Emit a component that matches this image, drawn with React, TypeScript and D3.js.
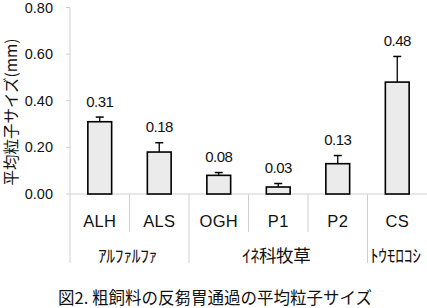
import React from "react";
import * as d3 from "d3";

const categories = ["ALH", "ALS", "OGH", "P1", "P2", "CS"];
const values = [0.31, 0.18, 0.08, 0.03, 0.13, 0.48];
const errors = [0.02, 0.04, 0.012, 0.015, 0.035, 0.11];
const valueLabels = ["0.31", "0.18", "0.08", "0.03", "0.13", "0.48"];
const yTicks = [0, 0.2, 0.4, 0.6, 0.8];
const groups = [
  { name: "ｱﾙﾌｧﾙﾌｧ", from: 0, to: 1 },
  { name: "ｲﾈ科牧草", from: 2, to: 4 },
  { name: "ﾄｳﾓﾛｺｼ", from: 5, to: 5 },
];
const yTitle = "平均粒子サイズ(mm)";
const caption = "図2. 粗飼料の反芻胃通過の平均粒子サイズ";

export default function App() {
  const W = 427, H = 308;
  const x = d3.scaleBand<string>().domain(categories).range([70, 427]).padding(0);
  const y = d3.scaleLinear().domain([0, 0.8]).range([194, 7.5]);
  const bw = x.bandwidth() * 0.4;
  const grid = "#cfcfcf";
  const latin = "'Liberation Sans', Arial, sans-serif";
  const cjk = "'Noto Sans CJK JP', sans-serif";
  const groupStarts = new Set(groups.map((g) => g.from));

  return (
    <div style={{ position: "absolute", left: 0, top: 0, background: "#fff" }}>
      <svg width={W} height={H} style={{ display: "block" }}>
        <rect width={W} height={H} fill="#fff" />
        {/* y axis */}
        <line x1={70} x2={70} y1={y(0.8)} y2={263} stroke={grid} strokeWidth={1} />
        {yTicks.map((t) => (
          <g key={t}>
            <line x1={66} x2={70} y1={y(t)} y2={y(t)} stroke={grid} />
            <text
              x={53}
              y={y(t)}
              textAnchor="end"
              dominantBaseline="central"
              fontFamily={latin}
              fontSize={14.5}
              fill="#111"
            >
              {t.toFixed(2)}
            </text>
          </g>
        ))}
        {/* baseline */}
        <line x1={70} x2={427} y1={y(0)} y2={y(0)} stroke={grid} />
        {/* separators */}
        {categories.map((c, i) => {
          if (i === 0) return null;
          const xx = x(c)!;
          const long = groupStarts.has(i);
          return (
            <line key={c} x1={xx} x2={xx} y1={y(0)} y2={long ? 263 : 232} stroke={grid} />
          );
        })}
        {/* bars */}
        {categories.map((c, i) => {
          const cx = x(c)! + x.bandwidth() / 2;
          const top = y(values[i]);
          const et = y(values[i] + errors[i]);
          return (
            <g key={c}>
              <line x1={cx} x2={cx} y1={top} y2={et} stroke="#000" strokeWidth={1.3} />
              <line x1={cx - 4} x2={cx + 4} y1={et} y2={et} stroke="#000" strokeWidth={1.5} />
              <rect
                x={cx - bw / 2}
                y={top}
                width={bw}
                height={y(0) - top}
                fill="#ebebeb"
                stroke="#000"
                strokeWidth={1.6}
              />
              <text
                x={cx}
                y={et - 16}
                textAnchor="middle"
                dominantBaseline="central"
                fontFamily={latin}
                fontSize={15}
                letterSpacing={-0.5}
                fill="#111"
              >
                {valueLabels[i]}
              </text>
              <text
                x={cx}
                y={221}
                textAnchor="middle"
                dominantBaseline="central"
                fontFamily={latin}
                fontSize={16.5}
                letterSpacing={0.3}
                fill="#111"
              >
                {c}
              </text>
            </g>
          );
        })}
        {/* group labels */}
        {groups.map((g) => {
          const x0 = x(categories[g.from])!;
          const x1 = x(categories[g.to])! + x.bandwidth();
          return (
            <text
              key={g.name}
              x={(x0 + x1) / 2 - 2}
              y={254}
              textAnchor="middle"
              dominantBaseline="central"
              fontFamily={cjk}
              fontSize={17.5}
              letterSpacing={-0.3}
              fill="#111"
            >
              {g.name}
            </text>
          );
        })}
        {/* y title */}
        <text
          transform={`translate(10,112) rotate(-90)`}
          textAnchor="middle"
          dominantBaseline="central"
          fontFamily={cjk}
          fontSize={15.5}
          fill="#111"
        >
          {yTitle}
        </text>
        {/* caption */}
        <text
          x={215}
          y={297}
          textAnchor="middle"
          dominantBaseline="central"
          fontFamily={cjk}
          fontSize={16.5}
          fill="#111"
        >
          {caption}
        </text>
      </svg>
    </div>
  );
}
